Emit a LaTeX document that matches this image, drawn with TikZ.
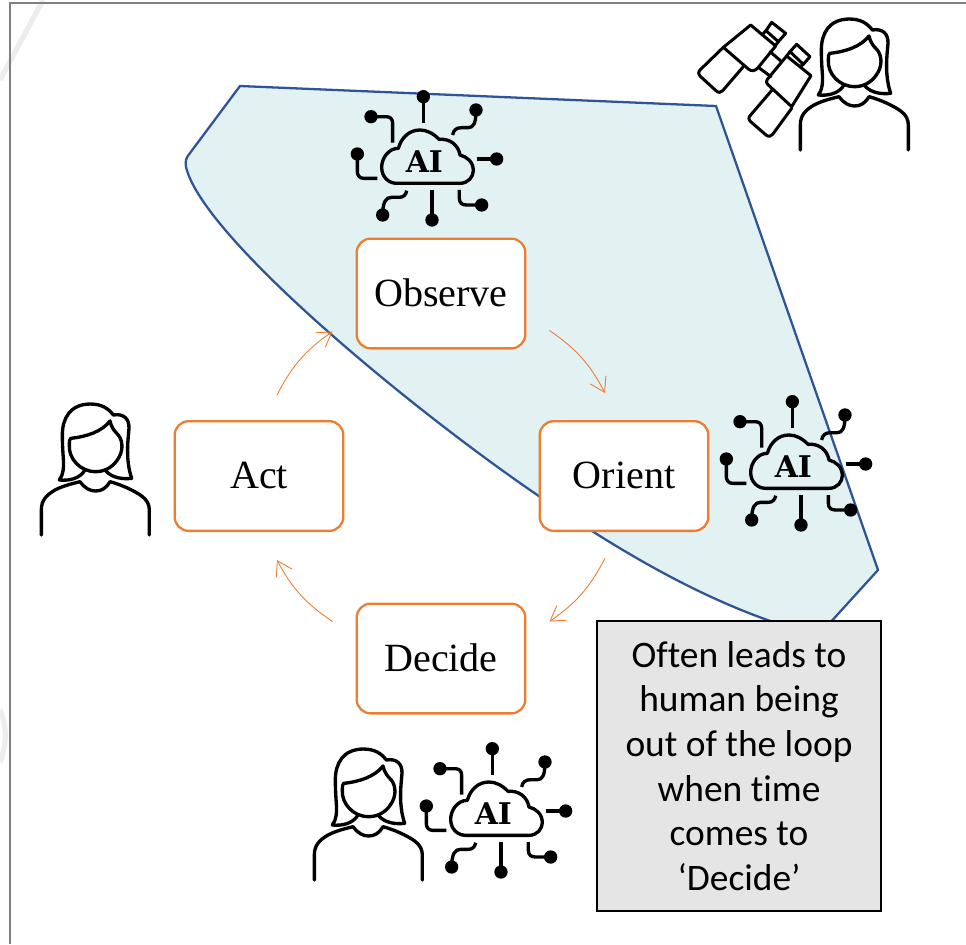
\documentclass[tikz,border=0pt]{standalone}
\usepackage{fontspec}
\setmainfont{Liberation Serif}
\newfontfamily\notefont[Ligatures=NoCommon]{Carlito}
\newfontfamily\slabfont{DejaVu Serif}
\usetikzlibrary{arrows.meta}
\definecolor{cycleorange}{HTML}{ED7D31}
\definecolor{regionblue}{HTML}{2F5597}
\definecolor{regionfill}{HTML}{E2F1F2}
\definecolor{notegray}{HTML}{E5E5E5}
\tikzset{
	stepbox/.style={draw=cycleorange, line width=1.3pt, rounded corners=8pt, fill=white, minimum width=3.42cm-1.3pt, minimum height=2.24cm-1.3pt, font=\fontsize{22.8}{27}\selectfont},
	cyclearrow/.style={draw=cycleorange, line width=0.5pt, -{Straight Barb[length=8pt,width=10pt]}},
	icon/.style={line width=1.9pt, line cap=round, line join=round},
	person/.pic={
		\draw[icon] (34,420) -- (34,345) .. controls (34,315) and (50,300) .. (75,285) .. controls (100,272) and (130,265) .. (150,260) .. controls (165,280) and (180,288) .. (197,288) .. controls (215,288) and (228,280) .. (240,260) .. controls (270,268) and (310,285) .. (335,303) .. controls (352,315) and (358,330) .. (358,345) -- (358,420);
		\draw[icon] (165,225) .. controls (150,250) and (120,258) .. (88,255) .. controls (100,240) and (102,215) .. (100,190) .. controls (98,165) and (97,140) .. (97,120) .. controls (97,70) and (120,28) .. (180,27) .. controls (215,27) and (235,40) .. (250,60) .. controls (280,55) and (298,70) .. (297,100) .. controls (295,130) and (285,190) .. (305,250) .. controls (280,253) and (245,250) .. (225,225);
		\draw[icon] (122,130) .. controls (170,125) and (215,110) .. (240,78) .. controls (245,100) and (255,110) .. (265,120) .. controls (280,140) and (280,170) .. (262,195) .. controls (245,220) and (220,230) .. (197,230) .. controls (150,230) and (115,190) .. (118,150) .. controls (118,140) and (118,133) .. (122,130) -- cycle;
	},
	binoculars/.pic={
		\draw[icon, line width=1.7pt] (100,112) -- (182,45) -- (257,108) -- (205,172) .. controls (195,184) and (185,185) .. (175,177) -- cycle;
		\draw[icon, line width=1.7pt] (100,112) -- (32,178) .. controls (24,186) and (24,192) .. (32,200) -- (78,242) .. controls (86,249) and (92,249) .. (98,242) -- (160,170);
		\draw[icon, line width=1.7pt] (228,62) -- (245,37) -- (287,70) -- (265,95) -- cycle;
		\draw[icon, line width=1.7pt] (228,62) -- (216,75) (255,108) -- (265,95);
		\draw[icon, line width=1.7pt] (205,172) -- (243,200) (240,125) -- (275,155);
		\draw[icon, line width=1.7pt] (232,208) -- (290,138) -- (363,197) -- (305,290) -- (235,225) .. controls (228,218) and (228,213) .. (232,208) -- cycle;
		\draw[icon, line width=1.7pt] (248,238) -- (182,315) .. controls (175,323) and (175,328) .. (182,335) -- (228,375) .. controls (236,381) and (242,380) .. (248,373) -- (305,295);
		\draw[icon, line width=1.7pt] (300,125) -- (320,103) -- (360,140) -- (340,163) -- cycle;
		\draw[icon, line width=1.7pt] (300,125) -- (290,138) (330,170) -- (340,163);
	},
	cloudai/.pic={
		\draw[icon] (170,310) -- (360,310) .. controls (385,310) and (400,290) .. (400,272) .. controls (400,245) and (380,230) .. (360,225) .. controls (355,195) and (330,175) .. (297,178) .. controls (280,160) and (260,150) .. (240,150) .. controls (210,150) and (185,170) .. (175,205) .. controls (145,205) and (125,235) .. (125,262) .. controls (125,290) and (145,310) .. (170,310) -- cycle;
		\node (-label) at (253,246) {\slabfont\bfseries\fontsize{17}{17}\selectfont AI};
		% traces with their end dots
		\draw[icon, line cap=butt] (250,130) -- (250,50);
		\draw[icon, line cap=butt] (158,188) -- (158,130) .. controls (158,116) and (150,110) .. (138,110) -- (93,110);
		\draw[icon, line cap=butt] (338,165) .. controls (340,150) and (350,143) .. (365,143) -- (385,143) .. controls (400,143) and (408,130) .. (408,92);
		\draw[icon, line cap=butt] (410,237) -- (470,237);
		\draw[icon, line cap=butt] (112,295) -- (70,295) .. controls (58,295) and (52,285) .. (52,275) -- (52,222);
		\draw[icon, line cap=butt] (200,332) .. controls (198,345) and (190,352) .. (178,352) -- (155,352) .. controls (138,352) and (128,365) .. (128,405);
		\draw[icon, line cap=butt] (276,330) -- (276,420);
		\draw[icon, line cap=butt] (358,330) -- (358,355) .. controls (358,370) and (368,375) .. (380,375) -- (425,375);
		\foreach \dotx/\doty in {250/50, 93/110, 408/90, 470/237, 52/222, 128/405, 276/420, 425/375}
			\fill (\dotx,\doty) circle (20);
	},
}
\begin{document}
\begin{tikzpicture}[x=0.02cm, y=-0.02cm]
	\useasboundingbox (0,0) rectangle (966,944);
	% frame and the faint marks behind it
	\draw[black!7, line width=3pt] (43,0) -- (0,80);
	\draw[black!7, line width=3pt] (0,710) .. controls (7,725) and (7,745) .. (0,762);
	\draw[gray, line width=1.4pt] (10,944) -- (10,3) -- (966,3);
	% shaded region
	\draw[regionblue, fill=regionfill, line width=1.3pt] (240,86) -- (716,106) -- (878,570) -- (828,625) -- (782,625) .. controls (700,598) and (620,552) .. (530,490) .. controls (400,400) and (202,235) .. (186,167) .. controls (185,161) and (186,158) .. (190,153) -- cycle;
	% the cycle
	\node[stepbox] (observe) at (441,293.5) {\raisebox{1pt}{Observe}};
	\node[stepbox] (orient) at (624,476) {\raisebox{1pt}{Orient}};
	\node[stepbox] (decide) at (441,658.5) {\raisebox{1pt}{Decide}};
	\node[stepbox] (act) at (259,476) {\raisebox{1pt}{Act}};
	\draw[cyclearrow] ([shift={(23,-19)}]observe.south east) to[bend left=14] ([shift={(-19,-27)}]orient.north);
	\draw[cyclearrow] ([shift={(-19,26)}]orient.south) to[bend left=14] ([shift={(23,19)}]decide.north east);
	\draw[cyclearrow] ([shift={(-23,19)}]decide.north west) to[bend left=14] ([shift={(18,28)}]act.south);
	\draw[cyclearrow] ([shift={(18,-25)}]act.north) to[bend left=14] ([shift={(-23,-18)}]observe.south west);
	% icons
	\pic[scale=0.3333] (observeai) at (340,80) {cloudai};
	\pic[scale=0.3333] (orientai) at (709,385) {cloudai};
	\pic[scale=0.3333] (decideai) at (409,732) {cloudai};
	\pic[scale=0.3333] (watcher) at (690,10) {binoculars};
	\pic[scale=0.3333] (watcherperson) at (789,10) {person};
	\pic[scale=0.3333] (actperson) at (30,395) {person};
	\pic[scale=0.3333] (decideperson) at (303,740) {person};
	% note
	\node[draw=black, line width=1.1pt, fill=notegray, minimum width=5.72cm-1.1pt, minimum height=5.84cm-1.1pt, align=center, font=\notefont\fontsize{21.3}{25.4}\selectfont] (note) at (739,766) {Often leads to\\human being\\out of the loop\\when time\\comes to\\‘Decide’};
\end{tikzpicture}
\end{document}
